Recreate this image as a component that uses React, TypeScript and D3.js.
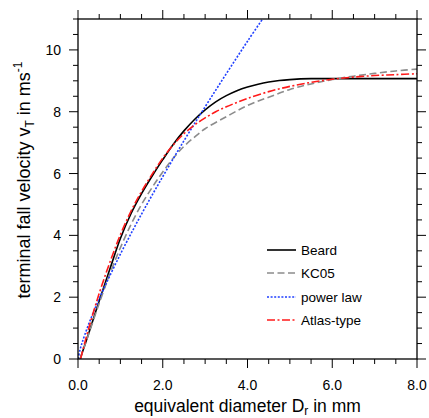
import React from "react";
import * as d3 from "d3";

const W = 429;
const H = 418;
const M = { left: 78, right: 12, top: 19, bottom: 59 };

const xTicksMajor = [0, 2, 4, 6, 8];
const xTickLabels = ["0.0", "2.0", "4.0", "6.0", "8.0"];
const yTicksMajor = [0, 2, 4, 6, 8, 10];
const yTickLabels = ["0", "2", "4", "6", "8", "10"];

const beardD = [0.05, 0.25, 0.5, 0.75, 1.0, 1.25, 1.5, 1.75, 2.0, 2.25, 2.5, 2.75, 3.0, 3.25, 3.5, 3.75, 4.0, 4.25, 4.5, 4.75, 5.0, 5.5, 6.0, 7.0, 8.0];
const beardV = [0, 0.82, 1.88, 2.9, 3.9, 4.7, 5.35, 5.92, 6.45, 6.95, 7.38, 7.75, 8.06, 8.32, 8.52, 8.68, 8.8, 8.89, 8.96, 9.01, 9.04, 9.07, 9.07, 9.07, 9.07];

const kcD = [0.05, 0.25, 0.5, 0.75, 1.0, 1.25, 1.5, 1.75, 2.0, 2.25, 2.5, 2.75, 3.0, 3.5, 4.0, 4.5, 5.0, 5.5, 6.0, 6.5, 7.0, 7.5, 8.0];
const kcV = [0, 0.8, 1.8, 2.75, 3.6, 4.35, 5.0, 5.55, 6.05, 6.5, 6.88, 7.18, 7.45, 7.84, 8.2, 8.47, 8.72, 8.9, 9.04, 9.15, 9.24, 9.32, 9.38];

const powD = [0, 0.05, 0.1, 0.25, 0.5, 1.0, 1.5, 2.0, 2.5, 3.0, 3.5, 4.0, 4.5];
const powV = [0, 0.31, 0.54, 1.12, 1.95, 3.39, 4.69, 5.9, 7.06, 8.16, 9.23, 10.28, 11.29];

const atlasD = [0.06, 0.25, 0.5, 0.75, 1.0, 1.25, 1.5, 1.75, 2.0, 2.25, 2.5, 2.75, 3.0, 3.25, 3.5, 3.75, 4.0, 4.5, 5.0, 5.5, 6.0, 6.5, 7.0, 7.5, 8.0];
const atlasV = [0, 0.98, 2.12, 3.12, 4.02, 4.78, 5.42, 5.98, 6.5, 6.93, 7.29, 7.57, 7.8, 8.0, 8.16, 8.3, 8.43, 8.65, 8.82, 8.95, 9.05, 9.12, 9.17, 9.2, 9.23];

const seriesNames = ["Beard", "KC05", "power law", "Atlas-type"];
const seriesColors = ["#000000", "#8c8c8c", "#1f3fff", "#ff1a1a"];
const seriesDash = ["", "7,3.5", "2,1.6", "8,2.5,2,2.5"];

export default function App() {
  const iw = W - M.left - M.right;
  const ih = H - M.top - M.bottom;
  const x = d3.scaleLinear().domain([0, 8]).range([M.left, M.left + iw]);
  const y = d3.scaleLinear().domain([0, 11]).range([M.top + ih, M.top]);

  const series = [
    { d: beardD, v: beardV },
    { d: kcD, v: kcV },
    { d: powD, v: powV },
    { d: atlasD, v: atlasV },
  ];

  const line = d3
    .line<[number, number]>()
    .x((p) => x(p[0]))
    .y((p) => y(p[1]))
    .curve(d3.curveCatmullRom.alpha(0.5));

  const xMinor = d3.range(0, 8.001, 0.5);
  const yMinor = d3.range(0, 11.001, 0.5);
  const font = "'Liberation Sans', Arial, Helvetica, sans-serif";
  const x0 = M.left, x1 = M.left + iw, y0 = M.top + ih, y1 = M.top;

  const legendY = [250, 273, 297, 320];

  return (
    <svg width={W} height={H} style={{ position: "absolute", left: 0, top: 0 }} fontFamily={font}>
      <defs>
        <clipPath id="plotclip">
          <rect x={x0} y={y1} width={iw} height={ih} />
        </clipPath>
      </defs>
      <rect x={0} y={0} width={W} height={H} fill="#fff" />
      <g clipPath="url(#plotclip)" fill="none">
        {series.map((s, i) => (
          <path
            key={i}
            d={line(s.d.map((dv, j) => [dv, s.v[j]] as [number, number])) || ""}
            stroke={seriesColors[i]}
            strokeWidth={1.6}
            strokeDasharray={seriesDash[i] || undefined}
          />
        ))}
      </g>
      <rect x={x0} y={y1} width={iw} height={ih} fill="none" stroke="#000" strokeWidth={1.3} />
      {xMinor.map((t, i) => {
        const major = Math.abs(t / 2 - Math.round(t / 2)) < 1e-6;
        const len = major ? 9 : 5;
        return (
          <g key={"xt" + i} stroke="#000" strokeWidth={1}>
            <line x1={x(t)} x2={x(t)} y1={y0} y2={y0 + len} />
            <line x1={x(t)} x2={x(t)} y1={y1} y2={y1 - len} />
          </g>
        );
      })}
      {yMinor.map((t, i) => {
        const major = Math.abs(t / 2 - Math.round(t / 2)) < 1e-6;
        const len = major ? 9 : 5;
        return (
          <g key={"yt" + i} stroke="#000" strokeWidth={1}>
            <line x1={x0} x2={x0 - len} y1={y(t)} y2={y(t)} />
            <line x1={x1} x2={x1 + len} y1={y(t)} y2={y(t)} />
          </g>
        );
      })}
      {xTicksMajor.map((t, i) => (
        <text key={"xl" + i} x={x(t)} y={390} textAnchor="middle" fontSize={14}>
          {xTickLabels[i]}
        </text>
      ))}
      {yTicksMajor.map((t, i) => (
        <text key={"yl" + i} x={61} y={y(t)} dy="0.36em" textAnchor="end" fontSize={14}>
          {yTickLabels[i]}
        </text>
      ))}
      <text x={(x0 + x1) / 2} y={412} textAnchor="middle" fontSize={17.5}>
        equivalent diameter D<tspan fontSize={12} dy={3}>r</tspan>
        <tspan dy={-3}> in mm</tspan>
      </text>
      <text transform={`translate(30,${180}) rotate(-90)`} textAnchor="middle" fontSize={18}>
        terminal fall velocity v<tspan fontSize={12} dy={4}>T</tspan>
        <tspan dy={-4}> in ms</tspan>
        <tspan fontSize={12} dy={-8}>-1</tspan>
      </text>
      {seriesNames.map((n, i) => (
        <g key={"lg" + i}>
          <line
            x1={267}
            x2={296}
            y1={legendY[i]}
            y2={legendY[i]}
            stroke={seriesColors[i]}
            strokeWidth={1.6}
            strokeDasharray={seriesDash[i] || undefined}
          />
          <text x={301} y={legendY[i]} dy="0.36em" fontSize={13.5}>
            {n}
          </text>
        </g>
      ))}
    </svg>
  );
}
